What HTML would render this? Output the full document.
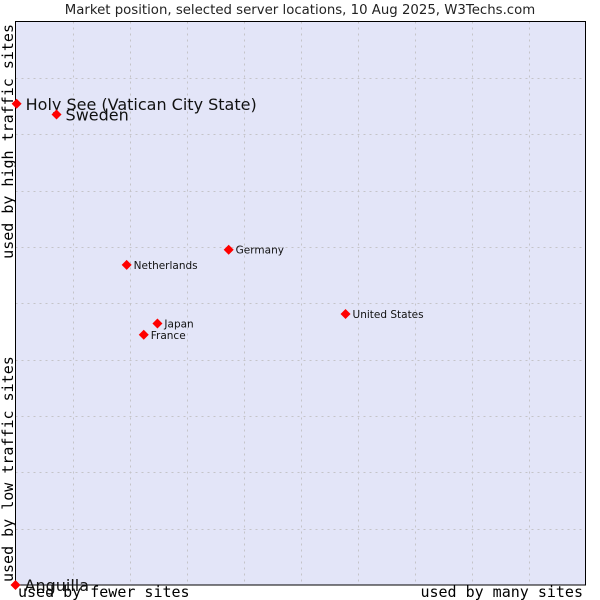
<!DOCTYPE html>
<html><head><meta charset="utf-8"><style>
html,body{margin:0;padding:0;background:#fff}
svg{display:block}
</style></head><body>
<svg id="chart" width="600" height="600" xmlns="http://www.w3.org/2000/svg">
<text x="300" y="14" text-anchor="middle" font-family="DejaVu Sans, sans-serif" font-size="13.3" fill="#222">Market position, selected server locations, 10 Aug 2025, W3Techs.com</text>
<rect x="15.5" y="21.5" width="570" height="563.5" fill="#e3e5f8" stroke="none"/>
<g id="grid"></g>
<path d="M15.5 21.5 H585.5 V585 H15.5 Z" fill="none" stroke="#000" stroke-width="1"/>
<g id="points"></g>
<text x="18" y="597" font-family="DejaVu Sans Mono, monospace" font-size="15" fill="#000">used by fewer sites</text>
<text x="583" y="597" text-anchor="end" font-family="DejaVu Sans Mono, monospace" font-size="15" fill="#000">used by many sites</text>
<text transform="translate(13,582) rotate(-90)" font-family="DejaVu Sans Mono, monospace" font-size="15" fill="#000">used by low traffic sites</text>
<text transform="translate(13,24) rotate(-90)" text-anchor="end" font-family="DejaVu Sans Mono, monospace" font-size="15" fill="#000">used by high traffic sites</text>
</svg>
<script>
const names=["Holy See (Vatican City State)","Sweden","Netherlands","Germany","United States","Japan","France","Anguilla"];
const xVals=[0.2,7.2,19.5,37.4,57.9,24.9,22.5,0];
const yVals=[85.4,83.5,56.8,59.5,48.1,46.4,44.4,0];
const bigLabel=[true,true,false,false,false,false,false,true];
const NS="http://www.w3.org/2000/svg";
const L=15.5,R=585.5,T=21.5,B=585;
const sx=v=>L+(R-L)*v/100, sy=v=>B-(B-T)*v/100;
const grid=document.getElementById('grid');
for(let i=1;i<10;i++){
  const lv=document.createElementNS(NS,'line');
  
  
  const x=Math.round(sx(i*10))+0.5;
  lv.setAttribute('x1',x);lv.setAttribute('x2',x);lv.setAttribute('y1',T);lv.setAttribute('y2',B);
  lv.setAttribute('stroke','#c4c4c8');lv.setAttribute('stroke-dasharray','2,4');
  grid.appendChild(lv);
  const lh=document.createElementNS(NS,'line');
  
  
  const y=Math.round(sy(i*10))+0.5;
  lh.setAttribute('y1',y);lh.setAttribute('y2',y);lh.setAttribute('x1',L);lh.setAttribute('x2',R);
  lh.setAttribute('stroke','#c4c4c8');lh.setAttribute('stroke-dasharray','2,4');
  grid.appendChild(lh);
}
const pts=document.getElementById('points');
names.forEach((n,i)=>{
  const x=sx(xVals[i]),y=sy(yVals[i]);
  const p=document.createElementNS(NS,'path');
  
  
  p.setAttribute('d',`M${x} ${y-5}L${x+5} ${y}L${x} ${y+5}L${x-5} ${y}Z`);
  p.setAttribute('fill','#f00');
  pts.appendChild(p);
  const t=document.createElementNS(NS,'text');
  
  
  const big=bigLabel[i];
  t.setAttribute('x',x+(big?9:7));
  t.setAttribute('y',y+(big?6:4));
  t.setAttribute('font-family','DejaVu Sans, sans-serif');
  t.setAttribute('font-size',big?16:10.5);
  t.setAttribute('fill','#111');
  t.textContent=n;
  pts.appendChild(t);
});
</script>
</body></html>
